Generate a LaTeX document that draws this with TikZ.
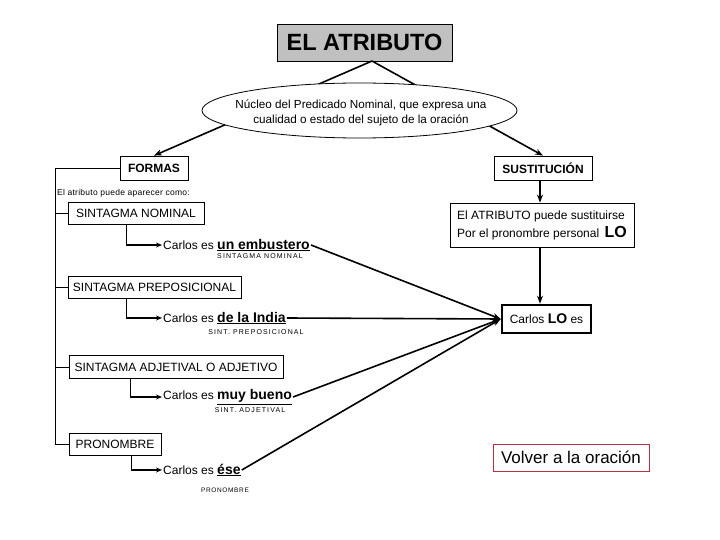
\documentclass[tikz,border=0pt]{standalone}
\usepackage{fontspec}
\setmainfont{Liberation Sans}
\usetikzlibrary{arrows.meta,shapes.geometric}
\definecolor{titlegray}{RGB}{192,192,192}
\definecolor{volverred}{RGB}{180,50,70}
\newcommand{\exbf}[1]{\underline{\fontsize{14}{16}\selectfont\bfseries #1}}
\begin{document}
\begin{tikzpicture}[x=1pt,y=-1pt,
  box/.style={draw,line width=0.8pt,inner sep=0pt,align=center},
  conn/.style={line width=1.6pt,-{Stealth[length=8pt,width=6pt]}},
  elbow/.style={line width=1.4pt,-{Stealth[length=6pt,width=5pt]}},
  tree/.style={line width=0.8pt},
  reg/.style={font=\fontsize{12}{14}\selectfont},
  ex/.style={anchor=west,inner sep=1pt,font=\fontsize{12}{14}\selectfont},
  tiny/.style={inner sep=0pt,font=\fontsize{7}{8}\selectfont\addfontfeature{LetterSpace=16}}
]
\useasboundingbox (0,0) rectangle (720,540);

% top
\node[box,fill=titlegray,minimum width=175pt,minimum height=37pt,
  font=\fontsize{23.5}{28}\selectfont\bfseries] (title) at (364.5,42.5) {EL ATRIBUTO};
\coordinate (apex) at (372,61);
\node[box,minimum width=68pt,minimum height=24pt,font=\fontsize{12}{14}\selectfont\bfseries] (formas) at (154,168) {FORMAS};
\node[box,minimum width=98pt,minimum height=24pt,font=\fontsize{12}{14}\selectfont\bfseries] (sust) at (543,168) {SUSTITUCIÓN};
\draw[conn] (apex) -- (formas.north);
\draw[conn] (apex) -- (sust.north);
\coordinate (ellc) at (359.5,110.5);
\draw[line width=0.8pt,fill=white] (ellc) ellipse [x radius=157.5pt, y radius=27.5pt];
\node[inner sep=0pt,align=center,font=\fontsize{11.7}{15}\selectfont] (nucleo) at (361,113)
  {Núcleo del Predicado Nominal, que expresa una\\cualidad o estado del sujeto de la oración};

% left column
\node[anchor=west,inner sep=0pt,font=\fontsize{8.5}{9}\selectfont\addfontfeature{LetterSpace=3}] (como) at (57,193) {El atributo puede aparecer como:};
\node[box,reg,minimum width=136pt,minimum height=22pt] (sn) at (136,213) {SINTAGMA NOMINAL};
\node[box,reg,minimum width=173pt,minimum height=22pt] (sp) at (154.5,287) {SINTAGMA PREPOSICIONAL};
\node[box,reg,minimum width=214pt,minimum height=23pt] (sa) at (176,367) {SINTAGMA ADJETIVAL O ADJETIVO};
\node[box,reg,minimum width=92pt,minimum height=22pt] (pr) at (115,444) {PRONOMBRE};

\coordinate (spine) at (55,0);
\draw[tree] (formas.west) -- (formas.west -| spine) -- (pr.west -| spine) -- (pr.west);
\draw[tree] (sn.west) -- (sn.west -| spine);
\draw[tree] (sp.west) -- (sp.west -| spine);
\draw[tree] (sa.west) -- (sa.west -| spine);

% examples
\node[ex] (e1) at (162,245) {Carlos es \exbf{un embustero}};
\node[ex] (e2) at (162,318) {Carlos es \exbf{de la India}};
\node[ex] (e3) at (162,397) {Carlos es \exbf{muy bueno}};
\node[ex] (e4) at (162,470) {Carlos es \exbf{ése}};
\node[tiny] (l1) at (260,256) {SINTAGMA NOMINAL};
\node[tiny] (l2) at (256,332) {SINT. PREPOSICIONAL};
\node[tiny] (l3) at (250,410) {SINT. ADJETIVAL};
\node[tiny,font=\fontsize{6.5}{8}\selectfont\addfontfeature{LetterSpace=10}] (l4) at (225,490) {PRONOMBRE};

\draw[elbow] ([xshift=59pt]sn.south west) |- (e1.west);
\draw[elbow] ([xshift=59pt]sp.south west) |- (e2.west);
\draw[elbow] ([xshift=62pt]sa.south west) |- (e3.west);
\draw[elbow] ([xshift=63pt]pr.south west) |- (e4.west);

% right column
\node[box,minimum width=184pt,minimum height=44pt,align=left,font=\fontsize{12}{18}\selectfont] (subst) at (542,225)
  {El ATRIBUTO puede sustituirse\\Por el pronombre personal \,{\fontsize{16}{18}\selectfont\bfseries LO}};
\node[draw,line width=2.6pt,inner sep=0pt,minimum width=89pt,minimum height=28pt,font=\fontsize{12}{14}\selectfont] (lo) at (546.5,319)
  {Carlos {\fontsize{14}{16}\selectfont\bfseries LO} es};
\draw[conn] (sust.south -| 540,0) -- (subst.north -| 540,0);
\draw[conn] (subst.south -| 540,0) -- (lo.north -| 540,0);

\foreach \e in {e1,e2,e3,e4} \draw[conn] (\e.east) -- (lo.west);

\node[draw=volverred,line width=0.8pt,inner sep=0pt,minimum width=156pt,minimum height=27pt,
  font=\fontsize{17}{20}\selectfont] (volver) at (571,457.5) {Volver a la oración};
\end{tikzpicture}
\end{document}
